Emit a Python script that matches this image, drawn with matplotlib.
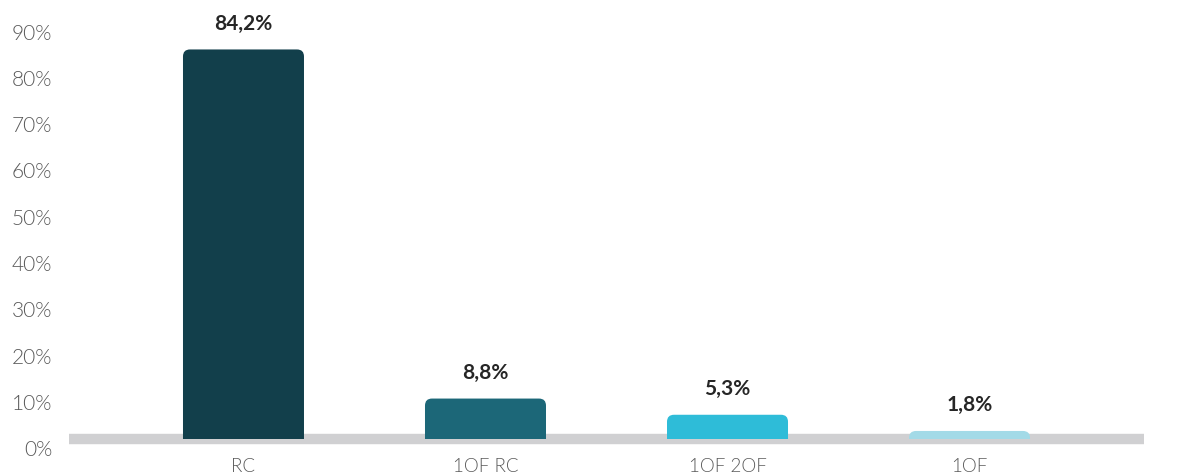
import matplotlib
matplotlib.use("Agg")
import matplotlib.pyplot as plt
from matplotlib.patches import FancyBboxPatch
from matplotlib.transforms import ScaledTranslation
import numpy as np

categories = ["RC", "1OF RC", "1OF 2OF", "1OF"]
values = [84.2, 8.8, 5.3, 1.8]
value_labels = ["84,2%", "8,8%", "5,3%", "1,8%"]
colors = ["#123F4B", "#1C6778", "#2EBCD8", "#A3DAE7"]
yticks = [0, 10, 20, 30, 40, 50, 60, 70, 80, 90]

plt.rcParams["font.family"] = ["Lato", "DejaVu Sans"]

W, H = 1202, 477
fig = plt.figure(figsize=(W / 100, H / 100), dpi=100)
ax = fig.add_axes([69 / W, (H - 440.3) / H, (1144 - 69) / W, (440.3 - 23.6) / H])

x = np.arange(len(categories))
bars = ax.bar(x, values, width=0.5, color=colors)
ax.set_xlim(-0.721, 3.721)
ax.set_ylim(0, 90)

# swap plain bars for ones with rounded top corners
fig.canvas.draw()
p0 = ax.transData.transform((0, 0))
p1 = ax.transData.transform((1, 1))
aspect = (p1[0] - p0[0]) / (p1[1] - p0[1])
r_px = 7
r = r_px / (p1[0] - p0[0])
for b, c in zip(bars, colors):
    b.set_visible(False)
    bx, bw, bh = b.get_x(), b.get_width(), b.get_height()
    patch = FancyBboxPatch((bx, -r * aspect * 2), bw, bh + r * aspect * 2,
                           boxstyle=f"round,pad=0,rounding_size={r}",
                           mutation_aspect=aspect, facecolor=c,
                           edgecolor="none", zorder=3)
    ax.add_patch(patch)

# grey baseline band
ax.axhline(0, color="#D0D0D2", linewidth=7.5, zorder=1, clip_on=False,
           solid_capstyle="butt")

for xi, v, lab in zip(x, values, value_labels):
    ax.annotate(lab, (xi, v), xytext=(0, 12), textcoords="offset points",
                ha="center", va="bottom", fontsize=15, fontweight="bold",
                color="#262626", annotation_clip=False)

ax.set_xticks(x)
ax.set_xticklabels(categories, fontsize=13.5, color="#595959", fontweight=300)
ax.set_yticks(yticks)
ax.set_yticklabels([f"{t}%" for t in yticks], fontsize=15, color="#595959",
                   fontweight=300)
ax.tick_params(axis="both", length=0)
ax.tick_params(axis="y", pad=12)
ax.tick_params(axis="x", pad=13)
for s in ax.spines.values():
    s.set_visible(False)

shift = ScaledTranslation(0, -8 / 100, fig.dpi_scale_trans)
for lab in ax.get_yticklabels():
    lab.set_transform(lab.get_transform() + shift)

fig.savefig("out.png", dpi=100)
